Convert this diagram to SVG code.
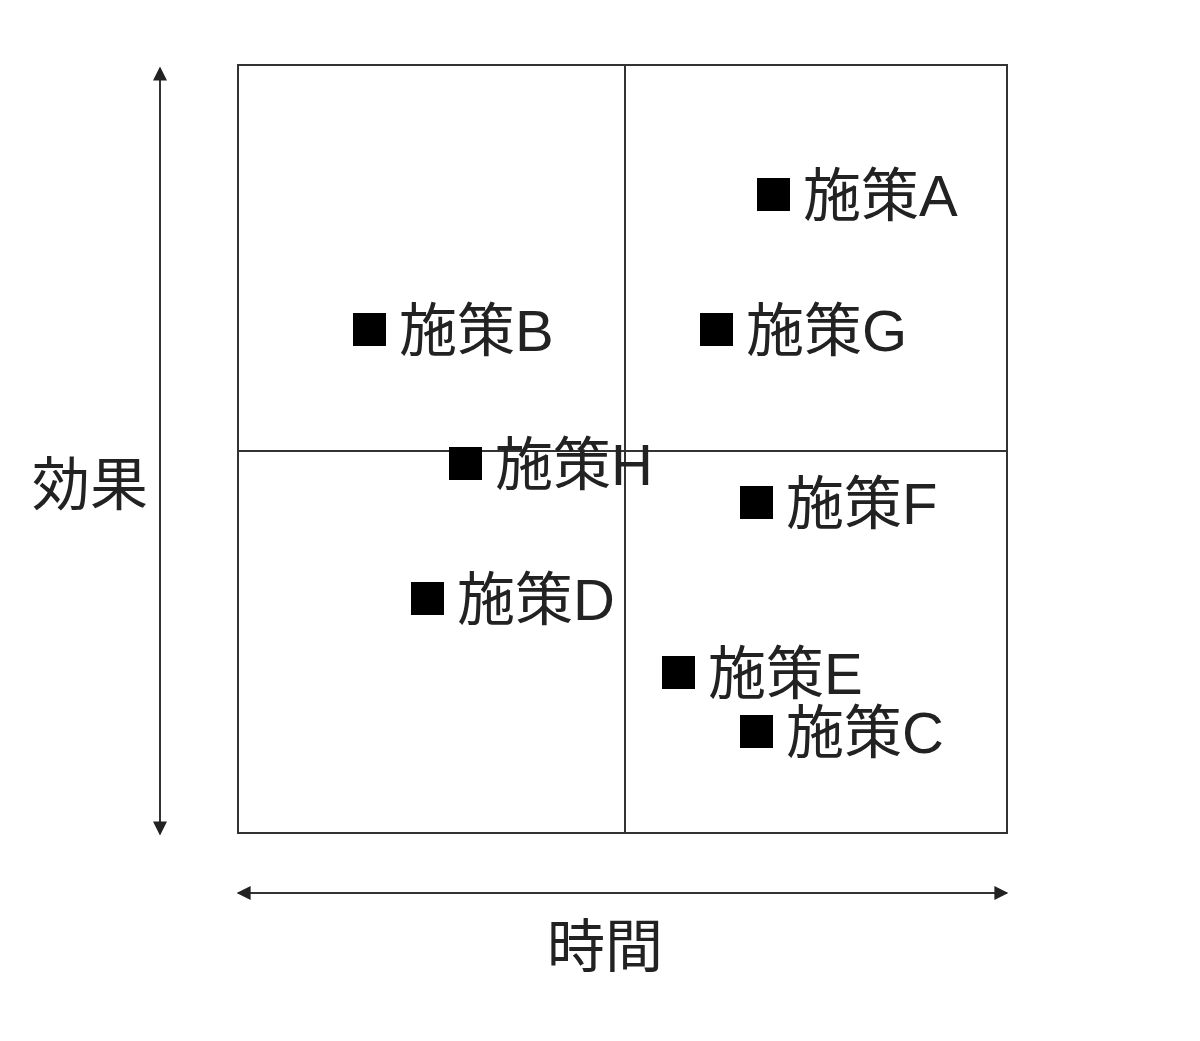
<svg xmlns="http://www.w3.org/2000/svg" width="1200" height="1041" viewBox="0 0 1200 1041">
<style>
.t{font-family:"Liberation Sans","Noto Sans CJK JP",sans-serif;font-size:58px;fill:#222}
.ln{stroke:#333;stroke-width:2;fill:none}
.sq{fill:#000}
</style>
<defs>
<marker id="ah" viewBox="0 0 10 10" refX="9" refY="5" markerWidth="18" markerHeight="14" markerUnits="userSpaceOnUse" orient="auto-start-reverse"><path d="M0,0 L10,5 L0,10 Z" fill="#222"/></marker>
</defs>
<rect width="1200" height="1041" fill="#fff"/>
<g id="frame">
<rect x="238" y="65" width="769" height="768" class="ln"/>
<line x1="625" y1="65" x2="625" y2="833" class="ln"/>
<line x1="238" y1="451" x2="1007" y2="451" class="ln"/>
</g>
<g id="connectors">
<line x1="160" y1="68" x2="160" y2="834" class="ln" marker-start="url(#ah)" marker-end="url(#ah)"/>
<line x1="238" y1="893" x2="1007" y2="893" class="ln" marker-start="url(#ah)" marker-end="url(#ah)"/>
</g>
<g id="axisY"><text class="t" x="90" y="505" text-anchor="middle">効果</text></g>
<g id="axisX"><text class="t" x="605" y="967" text-anchor="middle">時間</text></g>
<g id="A"><rect class="sq" x="757" y="178" width="33" height="33"/><text class="t" x="803" y="216">施策A</text></g>
<g id="B"><rect class="sq" x="353" y="313" width="33" height="33"/><text class="t" x="399" y="351">施策B</text></g>
<g id="G"><rect class="sq" x="700" y="313" width="33" height="33"/><text class="t" x="746" y="351">施策G</text></g>
<g id="H"><rect class="sq" x="449" y="447" width="33" height="33"/><text class="t" x="495" y="485">施策H</text></g>
<g id="F"><rect class="sq" x="740" y="486" width="33" height="33"/><text class="t" x="786" y="524">施策F</text></g>
<g id="D"><rect class="sq" x="411" y="582" width="33" height="33"/><text class="t" x="457" y="620">施策D</text></g>
<g id="E"><rect class="sq" x="662" y="656" width="33" height="33"/><text class="t" x="708" y="694">施策E</text></g>
<g id="C"><rect class="sq" x="740" y="715" width="33" height="33"/><text class="t" x="786" y="753">施策C</text></g>
</svg>
